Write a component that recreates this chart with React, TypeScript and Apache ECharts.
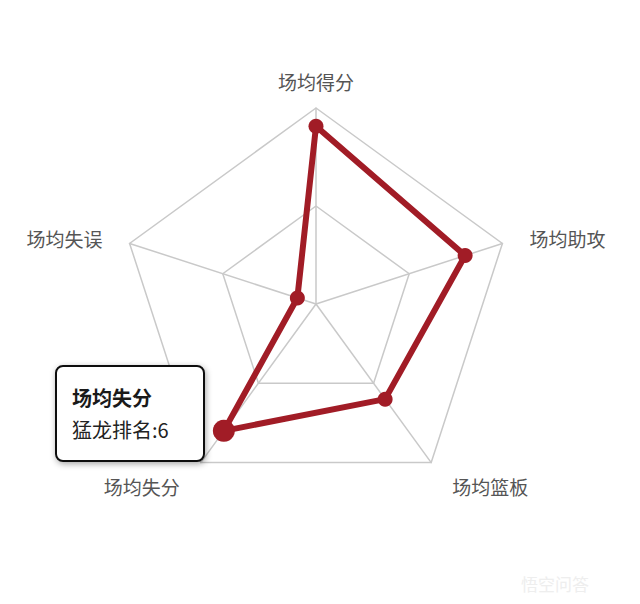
import React, { useEffect, useRef } from "react";
import * as echarts from "echarts";

const indicators = ["场均得分", "场均失误", "场均失分", "场均篮板", "场均助攻"];
const maxValue = 30;
const values = [27.2, 3, 24, 18, 24];
const highlightIndex = 2;
const highlightRank = 6;
const tipTitle = "场均失分";
const tipLabel = "猛龙排名";
const lowerLabels = ["场均失分", "场均篮板"];

export default function App() {
  const ref = useRef<HTMLDivElement>(null);
  useEffect(() => {
    document.body.style.margin = "0";
    const el = ref.current!;
    const chart = echarts.init(el, undefined, { renderer: "svg" });
    const red = "#a11c26";
    const grid = "#c9c9c9";
    const font = "'Noto Sans CJK SC', sans-serif";
    chart.setOption({
      animation: false,
      backgroundColor: "#ffffff",
      radar: {
        center: [316, 304],
        radius: 196,
        startAngle: 90,
        splitNumber: 2,
        shape: "polygon",
        indicator: indicators.map((n) => ({ name: n, max: maxValue, min: 0 })),
        nameGap: 17,
        axisName: {
          color: "#555",
          fontSize: 19,
          fontFamily: font,
          padding: [0, 11],
          formatter: (name: string) =>
            lowerLabels.indexOf(name) >= 0 ? `{low|${name}}` : name,
          rich: {
            low: {
              color: "#555",
              fontSize: 19,
              fontFamily: font,
              padding: [20, 0, 0, 0],
            },
          },
        },
        splitLine: { lineStyle: { color: grid, width: 1.5 } },
        axisLine: { lineStyle: { color: grid, width: 1.5 } },
        splitArea: { show: false },
        axisTick: { show: false },
        axisLabel: { show: false },
      },
      series: [
        {
          type: "radar",
          symbol: "circle",
          symbolSize: 15,
          itemStyle: { color: red },
          lineStyle: { color: red, width: 6 },
          data: [{ value: values, name: "猛龙" }],
        },
      ],
    });
    let pt: number[] = [223, 430];
    try {
      const cs = (chart as any).getModel().getComponent("radar").coordinateSystem;
      pt = cs.dataToPoint(values[highlightIndex], highlightIndex);
    } catch (e) {}
    chart.setOption({
      graphic: [
        {
          type: "circle",
          shape: { cx: pt[0], cy: pt[1], r: 11 },
          style: { fill: red },
          z: 100,
        },
        {
          type: "rect",
          shape: { x: 56, y: 366, width: 148, height: 95, r: 7 },
          style: {
            fill: "#fff",
            stroke: "#111",
            lineWidth: 2,
            shadowBlur: 6,
            shadowColor: "rgba(0,0,0,0.35)",
            shadowOffsetX: 1,
            shadowOffsetY: 2,
          },
          z: 110,
        },
        {
          type: "text",
          x: 72,
          y: 397,
          style: {
            text: tipTitle,
            fill: "#1a1a1a",
            font: `bold 20px ${font}`,
            verticalAlign: "middle",
          },
          z: 120,
        },
        {
          type: "text",
          x: 72,
          y: 429,
          style: {
            text: `${tipLabel}:${highlightRank}`,
            fill: "#222",
            font: `20px ${font}`,
            verticalAlign: "middle",
          },
          z: 120,
        },
        {
          type: "text",
          x: 555,
          y: 583,
          style: {
            text: "悟空问答",
            fill: "#eeeeee",
            font: `17px ${font}`,
            verticalAlign: "middle",
            align: "center",
          },
          z: 1,
        },
      ],
    });
    return () => chart.dispose();
  }, []);
  return <div ref={ref} style={{ width: 640, height: 604 }} />;
}
